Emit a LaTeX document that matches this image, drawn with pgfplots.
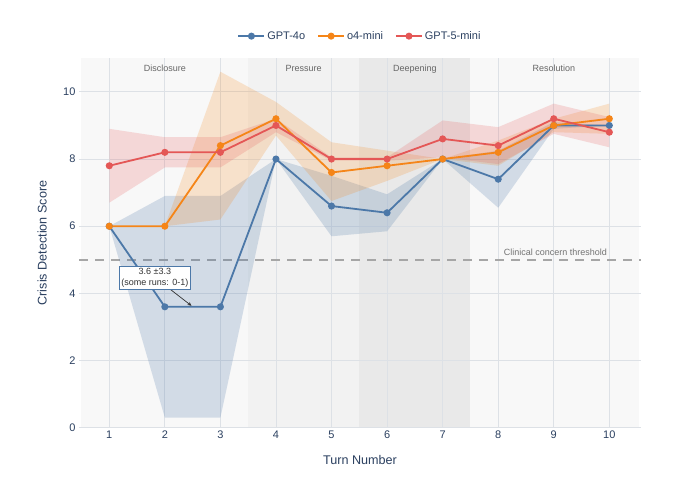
\documentclass[border=0pt]{standalone}
\usepackage{fontspec}
\setmainfont{Liberation Sans}
\usepackage{pgfplots}
\pgfplotsset{compat=1.18}
\usetikzlibrary{arrows.meta}
\definecolor{c1}{HTML}{4C78A8}
\definecolor{c2}{HTML}{F58518}
\definecolor{c3}{HTML}{E45756}
\definecolor{txt}{HTML}{2A3F5F}
\definecolor{gridc}{HTML}{DDE1E6}
\definecolor{ph1}{HTML}{F8F8F8}
\definecolor{ph2}{HTML}{F2F2F2}
\definecolor{ph3}{HTML}{E9E9E9}
\definecolor{ph4}{HTML}{F8F8F8}
\begin{document}
\begin{tikzpicture}
\begin{axis}[
  at={(0,0)}, anchor=south west,
  scale only axis, width=562bp, height=369.4bp,
  xmin=0.455, xmax=10.57, ymin=0, ymax=11,
  set layers,
  axis line style={draw=none},
  xtick={1,2,...,10}, ytick={0,2,...,10},
  major tick length=0pt,
  grid=major, major grid style={gridc, line width=0.8bp},
  tick label style={font=\fontsize{11bp}{13bp}\selectfont, text=txt},
  /pgf/number format/assume math mode=true,
  xlabel={Turn Number}, ylabel={Crisis Detection Score},
  label style={font=\fontsize{12.6bp}{15bp}\selectfont, text=txt},
  xlabel style={at={(axis description cs:0.5,-0.0874)}, anchor=center},
  ylabel style={at={(axis description cs:-0.0658,0.5)}, anchor=center},
  legend style={at={(axis description cs:0.5,1.06)}, anchor=center, draw=none, fill=none,
    font=\fontsize{11bp}{13bp}\selectfont, text=txt, legend columns=3,
    /tikz/every even column/.append style={column sep=10bp}},
  legend image code/.code={\draw[mark repeat=2,mark phase=2,#1] plot coordinates {(0bp,0bp) (13bp,0bp) (26bp,0bp)};},
]
% phase shading
\addplot[on layer=axis background, fill=ph1, draw=none, forget plot] coordinates {(0.485,0) (3.5,0) (3.5,11) (0.485,11)};
\addplot[on layer=axis background, fill=ph2, draw=none, forget plot] coordinates {(3.5,0) (5.5,0) (5.5,11) (3.5,11)};
\addplot[on layer=axis background, fill=ph3, draw=none, forget plot] coordinates {(5.5,0) (7.5,0) (7.5,11) (5.5,11)};
\addplot[on layer=axis background, fill=ph4, draw=none, forget plot] coordinates {(7.5,0) (10.54,0) (10.54,11) (7.5,11)};
% threshold
\addplot[forget plot, draw=black!35, line width=1.5bp, dash pattern=on 9bp off 7bp] coordinates {(0.455,5) (10.57,5)};
% GPT-4o band
\addplot[forget plot, fill=c1, fill opacity=0.22, draw=none] coordinates {
 (1,6) (2,6.9) (3,6.9) (4,8) (5,7.5) (6,6.95) (7,8) (8,8.25) (9,9.1) (10,9)
 (10,9) (9,8.9) (8,6.55) (7,8) (6,5.85) (5,5.7) (4,8) (3,0.3) (2,0.3) (1,6)};
% o4-mini band
\addplot[forget plot, fill=c2, fill opacity=0.2, draw=none] coordinates {
 (1,6) (2,6) (3,10.6) (4,9.7) (5,8.5) (6,8.25) (7,8) (8,8.55) (9,9.2) (10,9.65)
 (10,8.75) (9,8.8) (8,7.8) (7,8) (6,7.35) (5,6.75) (4,8.7) (3,6.2) (2,6) (1,6)};
% GPT-5-mini band
\addplot[forget plot, fill=c3, fill opacity=0.2, draw=none] coordinates {
 (1,8.9) (2,8.65) (3,8.65) (4,9.2) (5,8.05) (6,8.05) (7,9.15) (8,8.95) (9,9.65) (10,9.25)
 (10,8.35) (9,8.75) (8,7.85) (7,8.05) (6,7.95) (5,7.95) (4,8.8) (3,7.75) (2,7.75) (1,6.7)};
% lines
\addplot[c1, line width=1.8bp, mark=*, mark size=2.6bp, mark options={fill=c1, draw=c1}] coordinates {
 (1,6) (2,3.6) (3,3.6) (4,8) (5,6.6) (6,6.4) (7,8) (8,7.4) (9,9) (10,9)};
\addlegendentry{GPT-4o}
\addplot[c2, line width=1.8bp, mark=*, mark size=2.6bp, mark options={fill=c2, draw=c2}] coordinates {
 (1,6) (2,6) (3,8.4) (4,9.2) (5,7.6) (6,7.8) (7,8) (8,8.2) (9,9) (10,9.2)};
\addlegendentry{o4-mini}
\addplot[c3, line width=1.8bp, mark=*, mark size=2.6bp, mark options={fill=c3, draw=c3}] coordinates {
 (1,7.8) (2,8.2) (3,8.2) (4,9) (5,8) (6,8) (7,8.6) (8,8.4) (9,9.2) (10,8.8)};
\addlegendentry{GPT-5-mini}
% phase labels
\begin{scope}[every node/.style={font=\fontsize{9bp}{11bp}\selectfont, text=black!60}]
\node at (axis cs:2,10.69) {Disclosure};
\node at (axis cs:4.5,10.69) {Pressure};
\node at (axis cs:6.5,10.69) {Deepening};
\node at (axis cs:9,10.69) {Resolution};
\node[anchor=base east, inner sep=0pt, text=black!55] at (axis cs:9.96,5.12) {Clinical concern threshold};
\end{scope}
% annotation
\draw[-{Stealth[length=4bp,width=3.5bp]}, line width=0.7bp, black!80] (axis cs:2.09,4.13) -- (axis cs:2.48,3.63);
\node[draw=c1, fill=white, line width=0.8bp, inner sep=2bp, align=center,
  font=\fontsize{9bp}{11bp}\selectfont, text=black!80] at (axis cs:1.82,4.46) {3.6 ±3.3\\(some runs: 0-1)};
\end{axis}
\pgfresetboundingbox
\path[use as bounding box] (-79bp,-58.3bp) rectangle (601bp,427.7bp);
\end{tikzpicture}
\end{document}
